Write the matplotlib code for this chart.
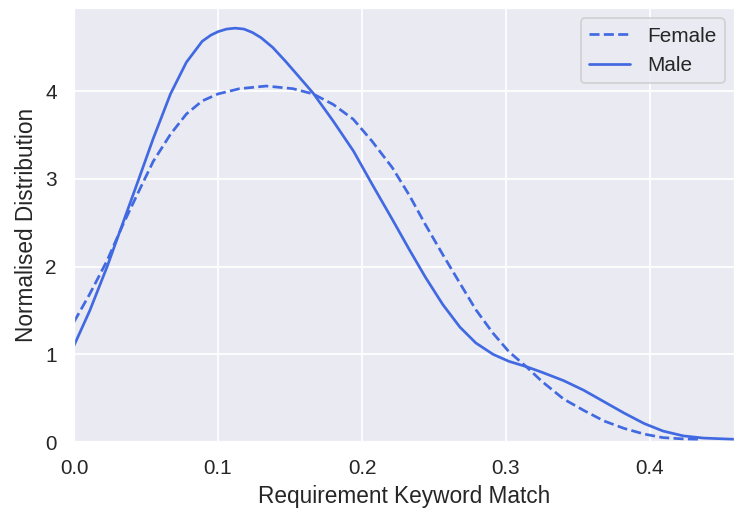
import numpy as np
import matplotlib
matplotlib.use('Agg')
import matplotlib.pyplot as plt
import seaborn as sns

# values
male_x = [0, 0.011, 0.023, 0.034, 0.045, 0.055, 0.067, 0.078, 0.089, 0.095, 0.1, 0.106, 0.112,
          0.118, 0.124, 0.13, 0.138, 0.147, 0.156, 0.166, 0.18, 0.194, 0.207, 0.221, 0.233,
          0.244, 0.256, 0.268, 0.279, 0.291, 0.302, 0.314, 0.325, 0.34, 0.354, 0.368, 0.382,
          0.396, 0.409, 0.423, 0.437, 0.46]
male_y = [1.1, 1.5, 2.0, 2.5, 3.0, 3.46, 3.97, 4.33, 4.57, 4.64, 4.68, 4.71, 4.72,
          4.71, 4.67, 4.61, 4.50, 4.34, 4.17, 3.98, 3.66, 3.32, 2.94, 2.54, 2.19,
          1.88, 1.57, 1.31, 1.13, 1.0, 0.92, 0.86, 0.795, 0.70, 0.59, 0.46, 0.33,
          0.21, 0.125, 0.07, 0.045, 0.03]

female_x = [0, 0.011, 0.023, 0.034, 0.045, 0.055, 0.067, 0.078, 0.089, 0.1, 0.115, 0.1335,
            0.152, 0.166, 0.18, 0.194, 0.207, 0.221, 0.233, 0.244, 0.256, 0.268, 0.279,
            0.291, 0.302, 0.314, 0.325, 0.34, 0.354, 0.368, 0.382, 0.396, 0.409, 0.423, 0.435]
female_y = [1.37, 1.69, 2.07, 2.48, 2.86, 3.2, 3.51, 3.74, 3.89, 3.97, 4.03, 4.06,
            4.03, 3.97, 3.85, 3.68, 3.43, 3.13, 2.81, 2.48, 2.14, 1.81, 1.51,
            1.24, 1.03, 0.86, 0.69, 0.49, 0.36, 0.24, 0.155, 0.09, 0.05, 0.035, 0.03]

sns.set_theme(style='darkgrid')
plt.rcParams['font.family'] = ['Liberation Sans', 'DejaVu Sans']

fig = plt.figure(figsize=(735 / 130, 510 / 130), dpi=130)
ax = fig.add_axes([74 / 735, 1 - 442 / 510, 1 - 74 / 735, (442 - 8) / 510])

ax.plot(female_x, female_y, color='royalblue', linestyle='--', lw=1.5, label='Female')
ax.plot(male_x, male_y, color='royalblue', linestyle='-', lw=1.5, label='Male')

ax.set_xlim(0, 0.459)
ax.set_ylim(0, 4.95)
ax.set_xticks([0, 0.1, 0.2, 0.3, 0.4])
ax.set_yticks([0, 1, 2, 3, 4])
ax.tick_params(labelsize=11.5)
ax.set_xlabel('Requirement Keyword Match', fontsize=12.5)
ax.set_ylabel('Normalised Distribution', fontsize=12.5)
ax.legend(loc='upper right', fontsize=11.5)

fig.savefig('out.png', dpi=130)
